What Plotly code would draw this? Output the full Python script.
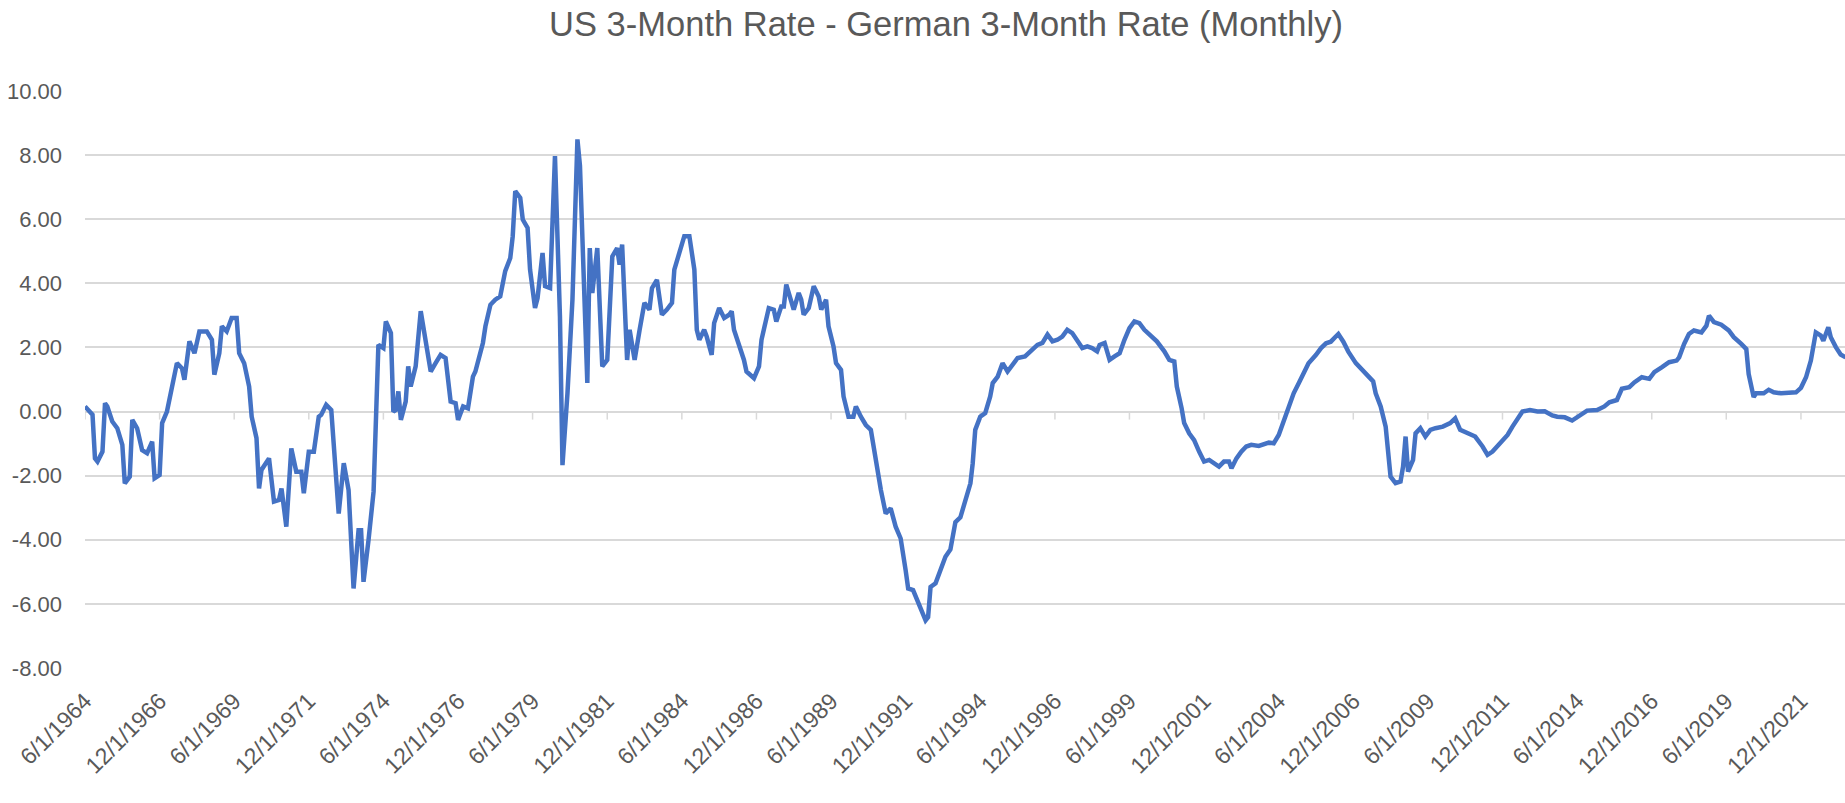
import plotly.graph_objects as go
import pandas as pd

# ---- data (US 3M rate minus German 3M rate, %) ----
dates = [
    "1964-06", "1964-09", "1964-10", "1964-11", "1965-01", "1965-02", "1965-03", "1965-05", "1965-07", "1965-09",
    "1965-10", "1965-12", "1966-01", "1966-03", "1966-05", "1966-07", "1966-09", "1966-10", "1966-12", "1967-01",
    "1967-03", "1967-05", "1967-07", "1967-09", "1967-10", "1967-12", "1968-02", "1968-04", "1968-07", "1968-09",
    "1968-10", "1968-12", "1969-01", "1969-03", "1969-05", "1969-07", "1969-08", "1969-10", "1969-12", "1970-01",
    "1970-03", "1970-04", "1970-05", "1970-08", "1970-10", "1970-12", "1971-01", "1971-03", "1971-05", "1971-07",
    "1971-09", "1971-10", "1971-12", "1972-02", "1972-04", "1972-05", "1972-07", "1972-09", "1972-10", "1972-12",
    "1973-02", "1973-04", "1973-06", "1973-08", "1973-09", "1973-10", "1973-12", "1974-02", "1974-04", "1974-06",
    "1974-07", "1974-09", "1974-10", "1974-11", "1974-12", "1975-01", "1975-03", "1975-04", "1975-05", "1975-07",
    "1975-09", "1975-10", "1976-01", "1976-03", "1976-05", "1976-07", "1976-08", "1976-09", "1976-11", "1976-12",
    "1977-02", "1977-04", "1977-06", "1977-07", "1977-10", "1977-11", "1978-01", "1978-03", "1978-05", "1978-07",
    "1978-09", "1978-10", "1978-11", "1979-01", "1979-02", "1979-04", "1979-05", "1979-07", "1979-08", "1979-10",
    "1979-11", "1980-01", "1980-03", "1980-05", "1980-06", "1980-08", "1980-10", "1980-12", "1981-01", "1981-04",
    "1981-05", "1981-06", "1981-08", "1981-10", "1981-12", "1982-02", "1982-04", "1982-05", "1982-06", "1982-08",
    "1982-09", "1982-11", "1983-01", "1983-03", "1983-05", "1983-06", "1983-08", "1983-10", "1983-12", "1984-02",
    "1984-03", "1984-05", "1984-07", "1984-09", "1984-11", "1984-12", "1985-01", "1985-03", "1985-04", "1985-06",
    "1985-07", "1985-09", "1985-11", "1986-01", "1986-02", "1986-03", "1986-05", "1986-07", "1986-08", "1986-11",
    "1987-01", "1987-02", "1987-03", "1987-05", "1987-07", "1987-08", "1987-10", "1987-11", "1987-12", "1988-02",
    "1988-03", "1988-05", "1988-06", "1988-07", "1988-09", "1988-11", "1989-01", "1989-02", "1989-04", "1989-05",
    "1989-07", "1989-08", "1989-10", "1989-11", "1989-12", "1990-01", "1990-03", "1990-04", "1990-06", "1990-08",
    "1990-10", "1990-12", "1991-02", "1991-04", "1991-06", "1991-08", "1991-10", "1991-12", "1992-01", "1992-03",
    "1992-05", "1992-06", "1992-08", "1992-09", "1992-10", "1992-12", "1993-02", "1993-04", "1993-06", "1993-08",
    "1993-10", "1993-12", "1994-02", "1994-03", "1994-04", "1994-06", "1994-08", "1994-10", "1994-11", "1995-01",
    "1995-03", "1995-05", "1995-07", "1995-09", "1995-12", "1996-03", "1996-05", "1996-07", "1996-09", "1996-11",
    "1997-01", "1997-03", "1997-05", "1997-07", "1997-09", "1997-11", "1998-01", "1998-03", "1998-05", "1998-06",
    "1998-08", "1998-09", "1998-10", "1998-12", "1999-02", "1999-04", "1999-06", "1999-08", "1999-10", "1999-12",
    "2000-02", "2000-05", "2000-08", "2000-10", "2000-12", "2001-01", "2001-03", "2001-04", "2001-06", "2001-08",
    "2001-10", "2001-12", "2002-02", "2002-04", "2002-06", "2002-08", "2002-10", "2002-11", "2003-01", "2003-03",
    "2003-05", "2003-07", "2003-10", "2004-02", "2004-04", "2004-06", "2004-08", "2004-10", "2004-12", "2005-02",
    "2005-04", "2005-06", "2005-09", "2005-11", "2006-01", "2006-03", "2006-05", "2006-06", "2006-08", "2006-10",
    "2007-01", "2007-03", "2007-06", "2007-08", "2007-09", "2007-11", "2008-01", "2008-02", "2008-03", "2008-05",
    "2008-07", "2008-08", "2008-09", "2008-10", "2008-12", "2009-01", "2009-03", "2009-05", "2009-07", "2009-09",
    "2009-12", "2010-03", "2010-05", "2010-07", "2010-10", "2011-01", "2011-04", "2011-06", "2011-08", "2011-11",
    "2012-02", "2012-04", "2012-06", "2012-08", "2012-11", "2013-02", "2013-05", "2013-08", "2013-10", "2014-01",
    "2014-04", "2014-07", "2014-10", "2015-02", "2015-05", "2015-07", "2015-10", "2015-12", "2016-03", "2016-05",
    "2016-08", "2016-11", "2017-01", "2017-04", "2017-07", "2017-10", "2017-11", "2018-01", "2018-03", "2018-05",
    "2018-08", "2018-10", "2018-11", "2019-01", "2019-04", "2019-07", "2019-09", "2019-12", "2020-02", "2020-03",
    "2020-05", "2020-06", "2020-09", "2020-11", "2021-01", "2021-04", "2021-07", "2021-10", "2021-12", "2022-02",
    "2022-04", "2022-06", "2022-08", "2022-09", "2022-11", "2022-12", "2023-02", "2023-04", "2023-06",
]
values = [
    0.16, -0.10, -1.46, -1.56, -1.25, 0.26, 0.16, -0.31, -0.52, -1.04,
    -2.24, -2.03, -0.26, -0.52, -1.20, -1.30, -0.94, -2.08, -1.98, -0.36,
    0.00, 0.78, 1.51, 1.35, 0.99, 2.19, 1.82, 2.50, 2.50, 2.24,
    1.15, 1.82, 2.66, 2.50, 2.92, 2.92, 1.82, 1.51, 0.78, -0.16,
    -0.83, -2.40, -1.82, -1.46, -2.81, -2.76, -2.40, -3.59, -1.15, -1.88,
    -1.88, -2.55, -1.25, -1.25, -0.16, -0.10, 0.21, 0.05, -1.20, -3.18,
    -1.61, -2.45, -5.52, -3.70, -3.70, -5.31, -4.01, -2.50, 2.08, 1.98,
    2.81, 2.45, 0.00, 0.05, 0.63, -0.26, 0.31, 1.41, 0.78, 1.41,
    3.13, 2.66, 1.25, 1.51, 1.77, 1.67, 0.89, 0.31, 0.26, -0.26,
    0.16, 0.10, 1.09, 1.25, 2.14, 2.66, 3.33, 3.49, 3.59, 4.38,
    4.79, 5.47, 6.88, 6.67, 5.99, 5.73, 4.43, 3.23, 3.54, 4.95,
    3.91, 3.85, 7.97, 2.97, -1.67, 0.57, 3.49, 8.49, 7.66, 0.89,
    5.10, 3.70, 5.10, 1.41, 1.61, 4.84, 5.10, 4.58, 5.21, 1.61,
    2.55, 1.61, 2.55, 3.39, 3.18, 3.85, 4.11, 3.02, 3.18, 3.39,
    4.43, 4.95, 5.47, 5.47, 4.43, 2.55, 2.24, 2.55, 2.34, 1.77,
    2.76, 3.23, 2.92, 3.02, 3.13, 2.55, 2.08, 1.61, 1.25, 1.04,
    1.41, 2.24, 2.55, 3.23, 3.18, 2.81, 3.28, 3.28, 3.96, 3.39,
    3.18, 3.70, 3.49, 3.02, 3.23, 3.91, 3.59, 3.18, 3.49, 2.66,
    2.03, 1.51, 1.30, 0.47, 0.10, -0.16, -0.16, 0.16, -0.16, -0.42,
    -0.57, -1.61, -2.45, -3.18, -3.02, -3.59, -3.96, -4.95, -5.52, -5.57,
    -5.94, -6.20, -6.51, -6.41, -5.47, -5.36, -4.95, -4.53, -4.30, -3.45,
    -3.30, -2.76, -2.24, -1.61, -0.57, -0.16, -0.05, 0.47, 0.89, 1.09,
    1.51, 1.25, 1.46, 1.67, 1.72, 1.93, 2.08, 2.14, 2.40, 2.19,
    2.24, 2.34, 2.55, 2.45, 2.19, 1.98, 2.03, 1.98, 1.88, 2.08,
    2.14, 1.88, 1.61, 1.72, 1.82, 2.24, 2.60, 2.81, 2.76, 2.55,
    2.40, 2.19, 1.88, 1.61, 1.56, 0.78, 0.10, -0.36, -0.68, -0.89,
    -1.25, -1.56, -1.51, -1.61, -1.72, -1.56, -1.56, -1.77, -1.46, -1.25,
    -1.09, -1.04, -1.07, -0.97, -0.99, -0.73, -0.31, 0.10, 0.57, 0.88,
    1.20, 1.51, 1.77, 1.98, 2.13, 2.18, 2.34, 2.42, 2.18, 1.87,
    1.51, 1.35, 1.14, 0.94, 0.57, 0.16, -0.47, -1.51, -2.03, -2.23,
    -2.18, -1.72, -0.78, -1.87, -1.51, -0.68, -0.52, -0.78, -0.57, -0.52,
    -0.47, -0.36, -0.21, -0.57, -0.68, -0.78, -1.09, -1.35, -1.25, -0.99,
    -0.73, -0.47, -0.21, 0.00, 0.05, 0.00, 0.01, -0.12, -0.16, -0.18,
    -0.28, -0.12, 0.03, 0.05, 0.16, 0.29, 0.36, 0.71, 0.76, 0.91,
    1.07, 1.02, 1.23, 1.38, 1.54, 1.59, 1.69, 2.11, 2.42, 2.53,
    2.47, 2.68, 2.99, 2.79, 2.71, 2.53, 2.32, 2.11, 1.95, 1.17,
    0.45, 0.57, 0.57, 0.68, 0.60, 0.57, 0.57, 0.60, 0.74, 1.07,
    1.59, 2.47, 2.37, 2.21, 2.63, 2.32, 2.01, 1.78, 1.69,
]

title_text = "US 3-Month Rate - German 3-Month Rate (Monthly)"
x_tick_dates = pd.date_range("1964-06-01", "2021-12-01", freq="30MS")
x_tick_text = [f"{d.month}/{d.day}/{d.year}" for d in x_tick_dates]
y_tick_vals = [-8, -6, -4, -2, 0, 2, 4, 6, 8, 10]
y_tick_text = [f"{v:.2f}" for v in y_tick_vals]

# ---- figure ----
TEXT = "#595959"
GRID = "#D9D9D9"
FONT = "Liberation Sans"

fig = go.Figure()
fig.add_trace(go.Scatter(
    x=pd.to_datetime(dates), y=values, mode="lines",
    line=dict(color="#4472C4", width=4.5), hoverinfo="x+y",
))

# small tick marks hanging below the zero line (Excel category axis crosses at 0)
for d in x_tick_dates:
    fig.add_shape(type="line", xref="x", yref="y", x0=d, x1=d, y0=0, y1=-0.25,
                  line=dict(color=GRID, width=1.5), layer="below")

fig.update_layout(
    width=1845, height=803,
    margin=dict(l=85, r=0, t=91, b=135, pad=0),
    paper_bgcolor="white", plot_bgcolor="white",
    showlegend=False,
    font=dict(family=FONT, color=TEXT),
    title=dict(text=title_text, x=946 / 1845, xanchor="center", xref="container",
               y=1 - 24 / 803, yanchor="middle", yref="container",
               font=dict(family=FONT, size=34.5, color=TEXT)),
    xaxis=dict(
        type="date", range=["1964-06-01", "2023-05-24"],
        tickmode="array", tickvals=x_tick_dates, ticktext=x_tick_text,
        tickangle=-45, tickfont=dict(size=23, color=TEXT, family=FONT),
        showgrid=False, zeroline=False, showline=False, ticks="",
        ticklabelstandoff=14,
    ),
    yaxis=dict(
        range=[-8, 10], tickmode="array", tickvals=y_tick_vals, ticktext=y_tick_text,
        tickfont=dict(size=22, color=TEXT, family=FONT),
        showgrid=True, gridcolor=GRID, gridwidth=1.5,
        zeroline=True, zerolinecolor=GRID, zerolinewidth=1.5,
        showline=False, ticks="", ticklabelstandoff=22,
    ),
)

fig.write_html("out.html", config={"displayModeBar": False},
               post_script="document.body.style.margin='0';")
